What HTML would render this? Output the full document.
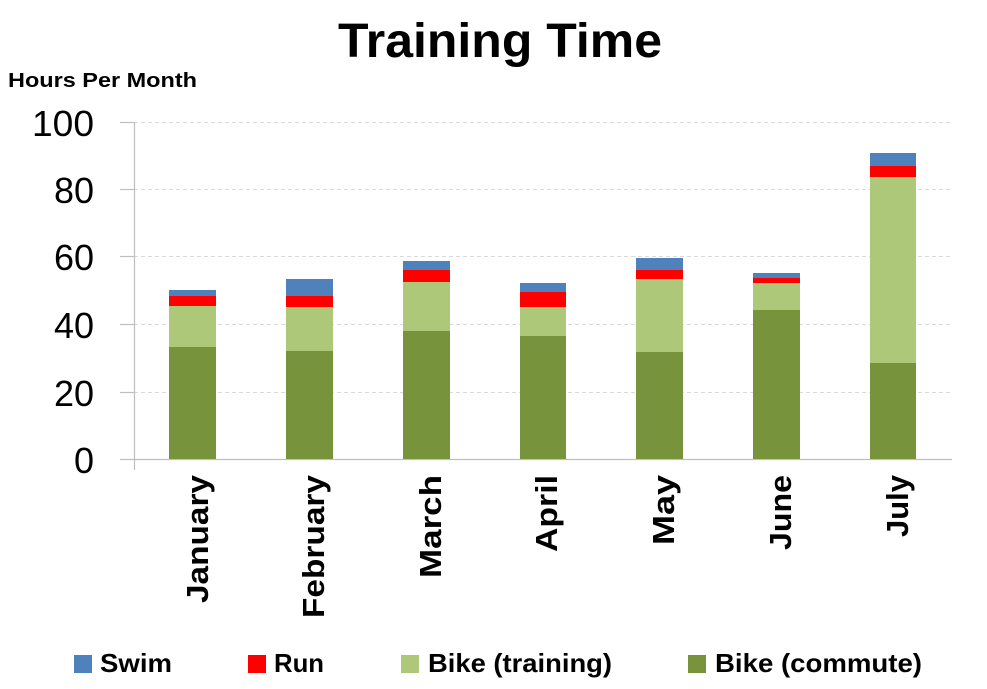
<!DOCTYPE html>
<html><head><style>body{margin:0;background:#fff}svg{display:block}text{font-family:"Liberation Sans",sans-serif}</style></head>
<body>
<svg width="987" height="689" xmlns="http://www.w3.org/2000/svg">
<text x="500" y="57" font-size="48" font-weight="bold" text-anchor="middle" textLength="324" lengthAdjust="spacingAndGlyphs">Training Time</text>
<text x="8" y="87" font-size="20" font-weight="bold" textLength="189" lengthAdjust="spacingAndGlyphs">Hours Per Month</text>
<g stroke="#d9d9d9" stroke-dasharray="4,3" stroke-width="1">
<line x1="134" y1="122.5" x2="952" y2="122.5"/><line x1="134" y1="189.5" x2="952" y2="189.5"/><line x1="134" y1="256.5" x2="952" y2="256.5"/><line x1="134" y1="324.5" x2="952" y2="324.5"/><line x1="134" y1="392.5" x2="952" y2="392.5"/>
</g>
<g stroke="#bfbfbf" stroke-width="1.2">
<line x1="134.5" y1="122" x2="134.5" y2="470"/><line x1="134" y1="459.5" x2="952" y2="459.5"/>
<line x1="120" y1="122.5" x2="134" y2="122.5"/><line x1="120" y1="189.5" x2="134" y2="189.5"/><line x1="120" y1="256.5" x2="134" y2="256.5"/><line x1="120" y1="324.5" x2="134" y2="324.5"/><line x1="120" y1="392.5" x2="134" y2="392.5"/><line x1="120" y1="459.5" x2="134" y2="459.5"/>
</g>
<g font-size="36" text-anchor="end">
<text x="94" y="136" textLength="62" lengthAdjust="spacingAndGlyphs">100</text><text x="94" y="203">80</text><text x="94" y="270">60</text><text x="94" y="338">40</text><text x="94" y="406">20</text><text x="94" y="473">0</text>
</g>
<g>
<rect x="169" y="290" width="47" height="6" fill="#4f81bd"/><rect x="169" y="296" width="47" height="10" fill="#ff0000"/><rect x="169" y="306" width="47" height="41" fill="#aec87a"/><rect x="169" y="347" width="47" height="112" fill="#77933c"/>
<rect x="286" y="279" width="47" height="17" fill="#4f81bd"/><rect x="286" y="296" width="47" height="11" fill="#ff0000"/><rect x="286" y="307" width="47" height="44" fill="#aec87a"/><rect x="286" y="351" width="47" height="108" fill="#77933c"/>
<rect x="403" y="261" width="47" height="9" fill="#4f81bd"/><rect x="403" y="270" width="47" height="12" fill="#ff0000"/><rect x="403" y="282" width="47" height="49" fill="#aec87a"/><rect x="403" y="331" width="47" height="128" fill="#77933c"/>
<rect x="520" y="283" width="46" height="9" fill="#4f81bd"/><rect x="520" y="292" width="46" height="15" fill="#ff0000"/><rect x="520" y="307" width="46" height="29" fill="#aec87a"/><rect x="520" y="336" width="46" height="123" fill="#77933c"/>
<rect x="636" y="258" width="47" height="12" fill="#4f81bd"/><rect x="636" y="270" width="47" height="9" fill="#ff0000"/><rect x="636" y="279" width="47" height="73" fill="#aec87a"/><rect x="636" y="352" width="47" height="107" fill="#77933c"/>
<rect x="753" y="273" width="47" height="5" fill="#4f81bd"/><rect x="753" y="278" width="47" height="5" fill="#ff0000"/><rect x="753" y="283" width="47" height="27" fill="#aec87a"/><rect x="753" y="310" width="47" height="149" fill="#77933c"/>
<rect x="870" y="153" width="46" height="13" fill="#4f81bd"/><rect x="870" y="166" width="46" height="11" fill="#ff0000"/><rect x="870" y="177" width="46" height="186" fill="#aec87a"/><rect x="870" y="363" width="46" height="96" fill="#77933c"/>
</g>
<g font-size="31" font-weight="bold" text-anchor="end">
<text transform="translate(208,475) rotate(-90)" textLength="128" lengthAdjust="spacingAndGlyphs">January</text>
<text transform="translate(324,475) rotate(-90)" textLength="143" lengthAdjust="spacingAndGlyphs">February</text>
<text transform="translate(441,475) rotate(-90)" textLength="103" lengthAdjust="spacingAndGlyphs">March</text>
<text transform="translate(557,475) rotate(-90)" textLength="77" lengthAdjust="spacingAndGlyphs">April</text>
<text transform="translate(674,475) rotate(-90)" textLength="70" lengthAdjust="spacingAndGlyphs">May</text>
<text transform="translate(791,475) rotate(-90)" textLength="75" lengthAdjust="spacingAndGlyphs">June</text>
<text transform="translate(908,475) rotate(-90)" textLength="62" lengthAdjust="spacingAndGlyphs">July</text>
</g>
<g font-size="26" font-weight="bold">
<rect x="74" y="655" width="18" height="18" fill="#4f81bd"/><text x="100" y="672" textLength="72" lengthAdjust="spacingAndGlyphs">Swim</text>
<rect x="248" y="655" width="18" height="18" fill="#ff0000"/><text x="274" y="672" textLength="50" lengthAdjust="spacingAndGlyphs">Run</text>
<rect x="401" y="655" width="18" height="18" fill="#aec87a"/><text x="428" y="672" textLength="184" lengthAdjust="spacingAndGlyphs">Bike (training)</text>
<rect x="688" y="655" width="18" height="18" fill="#77933c"/><text x="715" y="672" textLength="207" lengthAdjust="spacingAndGlyphs">Bike (commute)</text>
</g>
</svg>
</body></html>
